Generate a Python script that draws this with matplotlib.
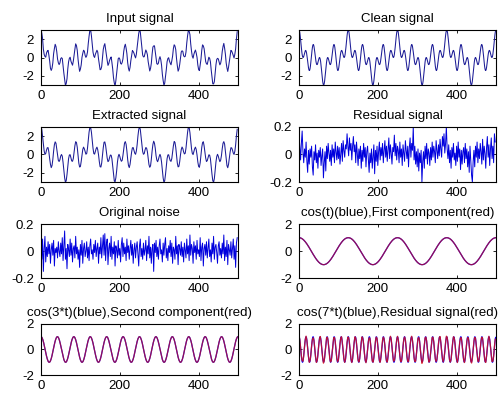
import numpy as np
import matplotlib
matplotlib.use('Agg')
import matplotlib.pyplot as plt

plt.rcParams['font.family'] = ['Liberation Sans', 'DejaVu Sans']

# signal set-up: 500 samples, cos(t) makes 4 cycles
n_samples = 500
cycles_t = 4
freqs = [1, 3, 7]   # cos(t), cos(3*t), cos(7*t) from the titles

# noise values (x1000), one every 2 samples
noise_k = [
    40, -60, 90, -150, 20, 110, -80, 30, -40, 70,
    -20, 50, -90, 10, 60, -30, 80, -110, 20, -10,
    30, -50, 70, 0, -40, 60, -20, 100, -70, 40,
    150, -60, 20, -130, 50, 10, -40, 90, -30, 60,
    -80, 20, 40, -50, 110, -20, 30, -60, 10, -120,
    50, -30, 80, -90, 20, 60, -40, 0, 70, -50,
    30, -70, 40, 90, -20, 10, -60, 50, -10, 80,
    -40, 20, 60, -90, 30, -20, 100, -50, 40, 120,
    -30, 130, -70, 50, 90, -100, 20, 60, -40, 110,
    -60, 30, -20, 70, -110, 40, 10, -50, 80, -30,
    20, -80, 50, 100, -40, 60, -20, 30, -70, 90,
    -10, 40, -60, 20, 80, -30, 50, -90, 10, 60,
    -50, 30, 70, -20, -110, 40, 90, -40, 20, -60,
    60, -30, 10, 80, -70, 40, -20, 110, -50, 30,
    -90, 20, 50, -150, 60, -10, 80, -40, 30, -60,
    40, 90, -20, 10, -80, 60, -30, 50, 100, -50,
    20, -70, 40, -10, 80, -40, 60, -90, 30, 10,
    -60, 110, -20, 40, -100, 50, 20, -30, 70, -40,
    30, -80, 60, 10, -50, 90, -20, 40, -70, 120,
    -30, 50, 20, -90, 70, -10, 40, -60, 80, -20,
    10, -40, 100, -70, 30, 60, -110, 20, 50, -30,
    70, -50, 20, 90, -40, 10, -80, 60, -20, 110,
    -60, 30, 50, -10, -90, 40, 70, -30, 20, -50,
    60, -20, 120, -70, 30, -40, 80, -100, 50, 10,
    -30, 70, -50, 20, 90, -60, 40, -120, 60, 100,
]

# residual values (x1000), one every 2 samples
resid_k = [
    150, 60, -40, 80, 170, 20, -60, 40, -20, 90,
    -50, -130, 30, -70, 40, -20, 60, -90, -150, 20,
    -40, 70, -60, 10, -100, 30, -20, 50, -80, -10,
    40, -170, -60, 20, -120, 60, -30, 80, 10, -50,
    30, -80, 70, -20, 40, -60, 90, 20, -40, 60,
    -30, 50, -70, 10, 80, -50, 100, 30, -20, 70,
    40, 150, 60, -10, 120, 30, 80, -40, 60, 130,
    20, 70, -60, 90, 10, -80, 40, -30, 60, -100,
    30, -50, 80, -20, 50, -90, 20, 60, -40, -130,
    10, -60, 40, -100, -20, 70, -140, 30, -50, 60,
    -80, 20, 90, -40, 50, -10, 80, -60, 30, 100,
    -20, 60, -50, 40, 120, -30, 70, 10, -70, 50,
    20, 140, -10, 80, -40, 60, 30, -60, 90, -20,
    40, -80, 70, 10, -50, 100, 30, -30, 60, -90,
    50, 120, -20, 80, 30, 200, -40, 60, -70, 20,
    -90, 40, -120, 10, -60, 30, -200, -50, 20, -100,
    60, -30, 80, -70, 40, 10, -80, 50, -40, 90,
    -20, 60, 20, -60, 100, 30, -30, 70, -10, 110,
    40, -20, 130, 60, 150, 10, 80, 200, 40, -30,
    70, -60, 30, -100, 50, -20, 80, -40, 10, -80,
    60, -50, 90, -20, 40, -110, 30, -70, 20, 50,
    -60, 80, -30, 40, -90, 20, -130, 60, -40, -150,
    -200, -50, 30, -90, 60, -20, 90, -60, 40, -30,
    80, 20, -70, 110, -40, 60, 10, -100, 50, 130,
    -20, 70, -80, 40, 120, -30, 60, -60, 150, 90,
]

n = np.arange(n_samples)
t = 2 * np.pi * cycles_t * n / n_samples
comps = [np.cos(f * t) for f in freqs]
clean = comps[0] + comps[1] + comps[2]

noise = np.array(noise_k) / 1000.0
resid = np.array(resid_k) / 1000.0
step = n_samples // len(noise)
xs = n[::step]

fig = plt.figure(figsize=(5.0, 3.94), dpi=100)

lefts = [0.082, 0.598]
bottoms = [0.784, 0.538, 0.294, 0.048]
heights = [0.140, 0.140, 0.137, 0.130]
w = 0.394
navy = '#1c1c96'

def make_ax(r, c, title, ylim, yt, ytl):
    ax = fig.add_axes([lefts[c], bottoms[r], w, heights[r]])
    ax.set_xlim(0, 500)
    ax.set_ylim(*ylim)
    ax.set_xticks([0, 200, 400])
    ax.set_yticks(yt)
    ax.set_yticklabels(ytl)
    ax.tick_params(direction='in', top=True, right=True, length=2.5,
                   width=0.6, labelsize=9.5)
    ax.tick_params(axis='x', pad=3.5)
    ax.tick_params(axis='y', pad=5)
    for s in ax.spines.values():
        s.set_linewidth(0.8)
    ax.set_title(title, fontsize=9.5, pad=6)
    return ax

big = ([-2, 0, 2], ['-2', '0', '2'])
small = ([-0.2, 0, 0.2], ['-0.2', '0', '0.2'])

ax = make_ax(0, 0, 'Input signal', (-3, 3), *big)
ax.plot(xs, clean[::step] + noise, color=navy, lw=0.75)

ax = make_ax(0, 1, 'Clean signal', (-3, 3), *big)
ax.plot(n, clean, color=navy, lw=0.75)

ax = make_ax(1, 0, 'Extracted signal', (-3, 3), *big)
ax.plot(xs, clean[::step] + resid * 0.3, color=navy, lw=0.75)

ax = make_ax(1, 1, 'Residual signal', (-0.2, 0.2), *small)
ax.plot(xs, resid, color='#0000dd', lw=0.7)

ax = make_ax(2, 0, 'Original noise', (-0.2, 0.2), *small)
ax.plot(xs, noise, color='#0000dd', lw=0.7)

ax = make_ax(2, 1, 'cos(t)(blue),First component(red)', (-2, 2), *big)
ax.plot(n, comps[0], color='b', lw=0.9)
ax.plot(n, comps[0], color='#d01010', lw=0.9, alpha=0.7)

ax = make_ax(3, 0, 'cos(3*t)(blue),Second component(red)', (-2, 2), *big)
ax.plot(n, comps[1], color='b', lw=0.9)
ax.plot(n, comps[1], color='#d01010', lw=0.9, alpha=0.7)

ax = make_ax(3, 1, 'cos(7*t)(blue),Residual signal(red)', (-2, 2), *big)
ax.plot(n, comps[2], color='b', lw=0.9)
ax.plot(xs, comps[2][::step] + resid * 0.5, color='#e01010', lw=0.9, alpha=0.8)

fig.savefig('out.png', dpi=100)
